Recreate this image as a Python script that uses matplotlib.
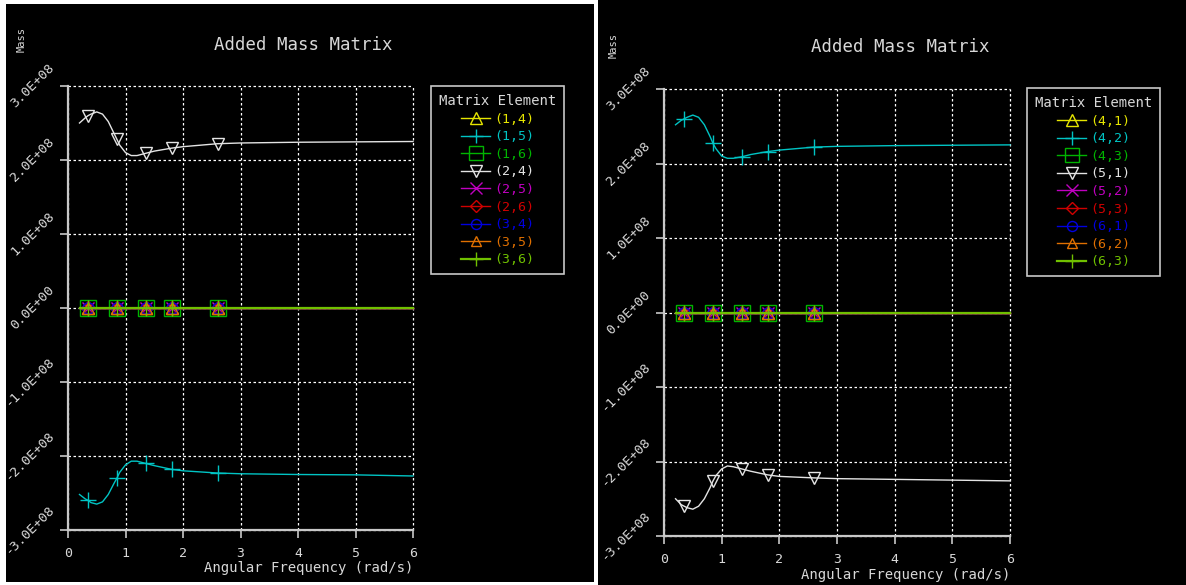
import matplotlib
matplotlib.use("Agg")
import matplotlib.pyplot as plt
import numpy as np

plt.rcParams['font.family'] = ['DejaVu Sans Mono']

# ---------------- data ----------------
freq = [0.2, 0.3, 0.35, 0.4, 0.5, 0.6, 0.7, 0.8, 0.85, 0.9, 1.0, 1.1, 1.2,
        1.35, 1.5, 1.8, 2.0, 2.6, 3.0, 4.0, 5.0, 6.0]
marker_freq = [0.35, 0.85, 1.35, 1.8, 2.6]

# left panel (values in 1E+08)
m24 = [2.50, 2.57, 2.60, 2.62, 2.65, 2.62, 2.52, 2.36, 2.28, 2.20, 2.10, 2.06,
       2.06, 2.09, 2.12, 2.16, 2.18, 2.22, 2.23, 2.24, 2.245, 2.25]
m15 = [-2.52, -2.58, -2.60, -2.63, -2.65, -2.62, -2.52, -2.37, -2.30, -2.22,
       -2.12, -2.07, -2.07, -2.10, -2.13, -2.18, -2.20, -2.23, -2.24, -2.25,
       -2.255, -2.27]
# right panel (values in 1E+08)
m42 = [2.52, 2.58, 2.60, 2.62, 2.65, 2.62, 2.52, 2.36, 2.27, 2.20, 2.10, 2.07,
       2.07, 2.09, 2.12, 2.16, 2.18, 2.22, 2.23, 2.24, 2.245, 2.25]
m51 = [-2.50, -2.58, -2.60, -2.62, -2.64, -2.60, -2.50, -2.35, -2.26, -2.19,
       -2.10, -2.06, -2.07, -2.10, -2.13, -2.18, -2.20, -2.22, -2.23, -2.24,
       -2.25, -2.26]
zero = [0.0] * len(freq)

left_labels = ['(1,4)', '(1,5)', '(1,6)', '(2,4)', '(2,5)', '(2,6)', '(3,4)', '(3,5)', '(3,6)']
right_labels = ['(4,1)', '(4,2)', '(4,3)', '(5,1)', '(5,2)', '(5,3)', '(6,1)', '(6,2)', '(6,3)']
left_values = [zero, m15, zero, m24, zero, zero, zero, zero, zero]
right_values = [zero, m42, zero, m51, zero, zero, zero, zero, zero]

yticks = [-3, -2, -1, 0, 1, 2, 3]
ytick_labels = ['-3.0E+08', '-2.0E+08', '-1.0E+08', '0.0E+00', '1.0E+08', '2.0E+08', '3.0E+08']
xticks = [0, 1, 2, 3, 4, 5, 6]

# ---------------- styles ----------------
colors = ['#e6e600', '#00c4c4', '#00b400', '#e4e4e4', '#c000c0', '#d00000',
          '#0000e0', '#e07000', '#70c000']
markers = ['^', '+', 's', 'v', 'x', 'D', 'o', '^', '+']
msizes = [9, 11, 11, 9, 9, 7, 8, 8, 11]
FG = '#d8d8d8'

fig = plt.figure(figsize=(11.86, 5.85), dpi=100)
fig.patch.set_facecolor('white')

W, H = 1186.0, 585.0


def px(x0, y0, x1, y1):
    return [x0 / W, 1 - y1 / H, (x1 - x0) / W, (y1 - y0) / H]


# black panel backgrounds
for rect in (px(6, 4, 594, 582), px(598, 0, 1186, 585)):
    bg = fig.add_axes(rect)
    bg.set_facecolor('black')
    bg.set_xticks([])
    bg.set_yticks([])
    for s in bg.spines.values():
        s.set_visible(False)
    bg.set_zorder(0)

panels = [
    dict(ax=px(68, 86, 413, 530), labels=left_labels, values=left_values,
         title=(303, 45), mass=(22, 39), xlab=(413, 568), leg=(431, 86)),
    dict(ax=px(664, 89, 1010, 536), labels=right_labels, values=right_values,
         title=(900, 47), mass=(614, 45), xlab=(1010, 575), leg=(1027, 88)),
]

for p in panels:
    ax = fig.add_axes(p['ax'])
    ax.set_zorder(1)
    ax.set_facecolor('none')
    mark_idx = [freq.index(f) for f in marker_freq]
    handles = []
    n = len(p['labels'])
    for i, (lab, vals) in enumerate(zip(p['labels'], p['values'])):
        lw = 1.6 if i == n - 1 else 1.0
        h, = ax.plot(freq, vals, color=colors[i], lw=lw, marker=markers[i],
                     markersize=msizes[i], markerfacecolor='none',
                     markeredgecolor=colors[i], markeredgewidth=1.0,
                     markevery=mark_idx, label=lab, clip_on=False,
                     zorder=2 + i * 0.01)
        handles.append(h)
    ax.set_xlim(0, 6)
    ax.set_ylim(-3, 3)
    ax.set_xticks(xticks)
    ax.set_xticklabels([str(t) for t in xticks])
    ax.set_yticks(yticks)
    ax.set_yticklabels(ytick_labels)
    ax.grid(True, color='white', linestyle=(0, (2, 2)), linewidth=0.9)
    for gl in ax.get_xgridlines() + ax.get_ygridlines():
        gl.set_clip_on(False)
    for s in ('top', 'right'):
        ax.spines[s].set_visible(False)
    for s in ('left', 'bottom'):
        ax.spines[s].set_color('#c8c8c8')
        ax.spines[s].set_linewidth(1.6)
    ax.tick_params(axis='both', colors='#c8c8c8', length=6, width=1.2,
                   direction='out', labelcolor=FG, labelsize=9.5)
    ax.tick_params(axis='y', labelrotation=45, pad=2)
    ax.tick_params(axis='x', pad=6)
    for t in ax.get_yticklabels():
        t.set_va('center')

    fig.text(p['title'][0] / W, 1 - p['title'][1] / H, 'Added Mass Matrix',
             ha='center', va='center', color=FG, fontsize=12.5)
    fig.text(p['mass'][0] / W, 1 - p['mass'][1] / H, 'Mass', rotation=90,
             ha='center', va='center', color=FG, fontsize=7.5)
    fig.text(p['xlab'][0] / W, 1 - p['xlab'][1] / H, 'Angular Frequency (rad/s)',
             ha='right', va='center', color=FG, fontsize=10)

    leg = fig.legend(handles=handles, loc='upper left',
                     bbox_to_anchor=(p['leg'][0] / W, 1 - p['leg'][1] / H),
                     borderaxespad=0, title='Matrix Element', fontsize=9.5,
                     title_fontsize=10, frameon=True, fancybox=False,
                     facecolor='black', edgecolor='#c8c8c8', framealpha=1,
                     labelspacing=0.35, handlelength=2.2, handletextpad=0.3,
                     borderpad=0.6, markerscale=0.9)
    leg.get_frame().set_linewidth(1.2)
    leg.get_title().set_color(FG)
    for t, c in zip(leg.get_texts(), colors):
        t.set_color(c)
    leg.set_zorder(5)

fig.savefig('out.png', dpi=100, facecolor=fig.get_facecolor())
